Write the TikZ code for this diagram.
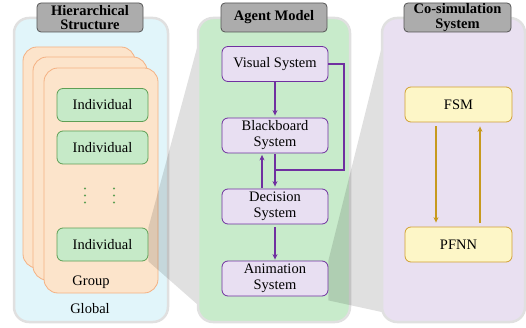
\documentclass[tikz,border=0pt]{standalone}
\usepackage{fontspec}
\setmainfont{Liberation Serif}
\usetikzlibrary{arrows.meta}

\definecolor{globalfill}{HTML}{E1F5FA}
\definecolor{groupfill}{HTML}{FCE4CB}
\definecolor{groupdraw}{HTML}{F4B183}
\definecolor{indfill}{HTML}{C6EAC8}
\definecolor{inddraw}{HTML}{5E9F55}
\definecolor{agentfill}{HTML}{C8EBCB}
\definecolor{sysfill}{HTML}{E8DFF2}
\definecolor{sysdraw}{HTML}{7030A0}
\definecolor{cosimfill}{HTML}{E9E0F1}
\definecolor{fsmfill}{HTML}{FDF6C7}
\definecolor{fsmdraw}{HTML}{D1A032}
\definecolor{goldarrow}{HTML}{C79A1E}
\definecolor{titlefill}{HTML}{ACACAC}
\definecolor{titledraw}{HTML}{555555}

\tikzset{
  panel/.style={rectangle, rounded corners=15pt, draw=black!12, line width=2.5pt, inner sep=0pt},
  titlebox/.style={rectangle, rounded corners=4pt, draw=titledraw, fill=titlefill, line width=0.8pt,
    inner sep=0pt, minimum width=106pt, minimum height=29pt, align=center,
    font=\fontsize{14.5}{14.5}\selectfont\bfseries},
  groupcard/.style={rectangle, rounded corners=14pt, draw=groupdraw, fill=groupfill, line width=0.8pt, inner sep=0pt},
  indbox/.style={rectangle, rounded corners=6pt, draw=inddraw, fill=indfill, line width=0.8pt,
    minimum width=91pt, minimum height=33pt, inner sep=0pt, font=\fontsize{14.5}{16}\selectfont},
  sysbox/.style={rectangle, rounded corners=6pt, draw=sysdraw, fill=sysfill, line width=0.8pt,
    minimum width=106pt, minimum height=35pt, inner sep=0pt, align=center, font=\fontsize{14.5}{16}\selectfont},
  fsmbox/.style={rectangle, rounded corners=6pt, draw=fsmdraw, fill=fsmfill, line width=0.8pt,
    minimum width=107pt, minimum height=35pt, inner sep=0pt, font=\fontsize{14.5}{16}\selectfont},
  label/.style={inner sep=0pt, font=\fontsize{14.5}{16}\selectfont},
  vdot/.style={circle, fill=inddraw, inner sep=0pt, minimum size=2.4pt},
  wedge/.style={fill=black, fill opacity=0.12, draw=none},
  purparrow/.style={draw=sysdraw, line width=1.2pt, -{Stealth[length=5.5pt,width=5pt]}},
  purpline/.style={draw=sysdraw, line width=1.2pt},
  goldarr/.style={draw=goldarrow, line width=1.2pt, -{Stealth[length=5.5pt,width=5pt]}},
}

\begin{document}
\begin{tikzpicture}[x=1pt, y=-1pt]
\useasboundingbox (0,0) rectangle (526,328);

% ---------- hierarchical structure ----------
\node[panel, fill=globalfill, minimum width=154pt, minimum height=304pt] (global) at (91,170) {};
\node[groupcard, minimum width=112pt, minimum height=221pt] (g1) at (79,157.5) {};
\node[groupcard, minimum width=114pt, minimum height=223pt] (g2) at (90,168.5) {};
\node[groupcard, minimum width=114pt, minimum height=225pt] (g3) at (101,180.5) {};
\node[indbox] (ind1) at (102.5,105) {Individual};
\node[indbox] (ind2) at (102.5,147.5) {Individual};
\node[indbox] (ind3) at (102.5,244.5) {Individual};
% vertical ellipsis between the individuals
\foreach \x/\n in {85/A,114/B}
  \foreach \y/\m in {188.5/1,195.5/2,202.5/3}
    \node[vdot] (dot\n\m) at (\x,\y) {};
\node[label] (grouplbl) at (91,282) {Group};
\node[label] (globallbl) at (90,309) {Global};
\node[titlebox] (t1) at (90,17.5) {Hierarchical\\Structure};

% zoom from an individual to the agent model
\coordinate (w1a) at (204,22);
\coordinate (w1b) at (206,312);
\fill[wedge] (ind3.north east) -- (w1a) -- (w1b) -- (ind3.south east) -- cycle;

% ---------- agent model ----------
\node[panel, fill=agentfill, minimum width=152pt, minimum height=304pt] (agent) at (274,170) {};
\node[sysbox] (visual) at (275,64) {Visual System};
\node[sysbox] (black) at (275,135.5) {Blackboard\\System};
\node[sysbox] (decision) at (275,206.5) {Decision\\System};
\node[sysbox] (anim) at (275,278.5) {Animation\\System};
\node[titlebox] (t2) at (274,17.5) {Agent Model};

\coordinate (loopA) at (344,64);
\coordinate (loopB) at (344,170);
\coordinate (loopC) at (275,170);
\draw[purparrow, shorten >=2pt] (visual.south) -- (black.north);
\draw[purparrow, shorten <=1pt, shorten >=2pt] (black.south) -- (decision.north);
\draw[purparrow, shorten <=1pt, shorten >=1.5pt] ([xshift=-13pt]decision.north) -- ([xshift=-13pt]black.south);
\draw[purpline] (visual.east) -- (loopA) -- (loopB) -- (loopC);
\draw[purparrow, shorten <=3pt, shorten >=1pt] (decision.south) -- (anim.north);

% zoom from the animation system to the co-simulation
\coordinate (w2a) at (388,22);
\coordinate (w2b) at (400,316);
\fill[wedge] (anim.north east) -- (w2a) -- (w2b) -- ([yshift=-4pt]anim.south east) -- cycle;

% ---------- co-simulation system ----------
\node[panel, fill=cosimfill, minimum width=143pt, minimum height=304pt] (cosim) at (453.5,170) {};
\node[fsmbox] (fsm) at (458.5,104.5) {FSM};
\node[fsmbox] (pfnn) at (458.5,244.5) {PFNN};
\node[titlebox, minimum width=107pt] (t3) at (457.5,17.5) {Co-simulation\\System};

\draw[goldarr, shorten <=4pt, shorten >=4pt] ([xshift=-22.5pt]fsm.south) -- ([xshift=-22.5pt]pfnn.north);
\draw[goldarr, shorten <=4pt, shorten >=4pt] ([xshift=21.5pt]pfnn.north) -- ([xshift=21.5pt]fsm.south);
\end{tikzpicture}
\end{document}
